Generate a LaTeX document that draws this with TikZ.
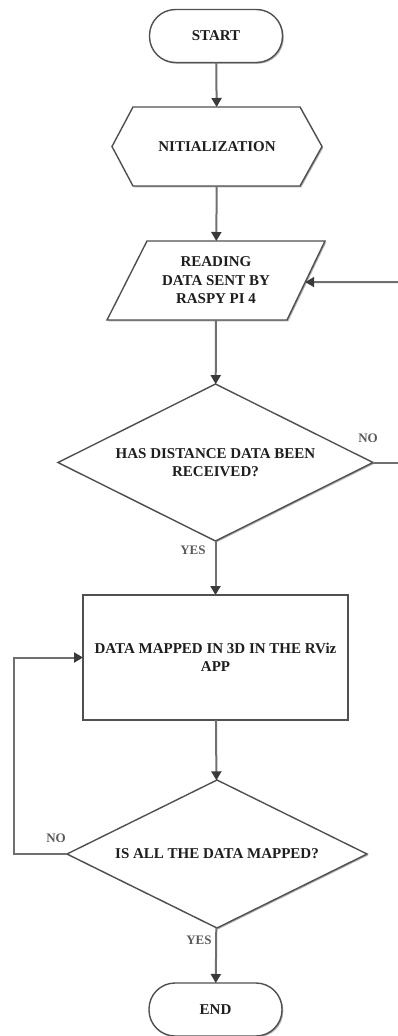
\documentclass[tikz,border=0pt]{standalone}
\usepackage{fontspec}
\setmainfont{Liberation Serif}
\usetikzlibrary{arrows.meta,shapes.geometric,shadows,backgrounds,calc}
\definecolor{edgec}{HTML}{505050}
\definecolor{connc}{HTML}{707070}
\definecolor{tipc}{HTML}{3A3A3A}
\definecolor{txtc}{HTML}{1E1E1E}
\definecolor{lblc}{HTML}{5A5A5A}
\begin{document}
\begin{tikzpicture}[x=1pt,y=-1pt,
  txt/.style={font=\fontsize{15}{18.5}\selectfont\bfseries, text=txtc, align=center, inner sep=0pt, outer sep=0pt},
  shapeline/.style={draw=edgec, line width=1.4pt, fill=white,
    drop shadow={shadow xshift=1.3pt, shadow yshift=-1.3pt, opacity=0.3, fill=black}},
  terminal/.style={txt, shapeline, rounded corners=26pt, minimum width=133pt, minimum height=53pt},
  decision/.style={txt, shapeline, shape=diamond, aspect=2},
  process/.style={txt, shapeline, minimum width=265pt, minimum height=125pt},
  connline/.style={draw=connc, line width=2pt},
  conn/.style={connline, -{Triangle[length=9pt,width=10pt,color=tipc]}},
  lbl/.style={font=\fontsize{13}{15}\selectfont\bfseries, text=lblc, inner sep=0pt}
]
\useasboundingbox (0,0) rectangle (398,1036);

% nodes
\node[terminal] (start) at (216,36) {START};
\node[txt, minimum width=210pt, minimum height=79pt] (init) at (217,146.5) {NITIALIZATION};
\node[txt, minimum width=218pt, minimum height=79pt] (read) at (216,280.5) {READING\\DATA SENT BY\\RASPY PI 4};
\node[decision, minimum width=315pt, minimum height=157pt] (d1) at (215.5,462.5) {HAS DISTANCE DATA BEEN\\RECEIVED?};
\node[process] (map) at (215.5,657.5) {DATA MAPPED IN 3D IN THE RViz\\APP};
\node[decision, minimum width=300pt, minimum height=148pt] (d2) at (217,854) {IS ALL THE DATA MAPPED?};
\node[terminal] (end) at (215.5,1009.5) {END};

% outlines of hexagon and parallelogram
\begin{scope}[on background layer]
  \draw[shapeline] ([xshift=21pt]init.north west) -- ([xshift=-22pt]init.north east) -- (init.east)
     -- ([xshift=-22pt]init.south east) -- ([xshift=21pt]init.south west) -- (init.west) -- cycle;
  \draw[shapeline] ([xshift=40pt]read.north west) -- (read.north east)
     -- ([xshift=-38pt]read.south east) -- (read.south west) -- cycle;
\end{scope}
\coordinate (readin) at ($(read.north east)!0.52!([xshift=-38pt]read.south east)$);

% main flow
\draw[conn] (start) -- (init);
\draw[conn] (init) -- (read);
\draw[conn] (read) -- (d1);
\draw[conn] (d1) -- (map);
\draw[conn] (map) -- (d2);
\draw[conn] (d2) -- (end);

% loop back from first decision (runs off the right edge)
\coordinate (r1) at (398,462.5);
\coordinate (r2) at (398,282);
\draw[connline] (d1.east) -- (r1);
\draw[conn] (r2) -- (readin);

% loop back from second decision
\draw[conn] (d2.west) -- ++(-53,0) |- (map.west);

% labels
\node[lbl] (no1) at (368,438) {NO};
\node[lbl] (yes1) at (193,550) {YES};
\node[lbl] (no2) at (56,838) {NO};
\node[lbl] (yes2) at (199,940) {YES};
\end{tikzpicture}
\end{document}
